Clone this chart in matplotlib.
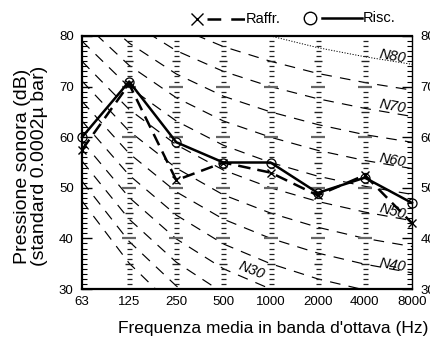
import numpy as np
import matplotlib
matplotlib.use("Agg")
import matplotlib.pyplot as plt
from matplotlib.lines import Line2D

plt.rcParams['font.family'] = ['Liberation Sans', 'DejaVu Sans']

# Octave bands (Hz) and measured sound pressure levels (dB)
bands = ['63', '125', '250', '500', '1000', '2000', '4000', '8000']
raffr = [57.5, 70.5, 51.5, 55.0, 53.0, 48.5, 52.5, 43.0]
risc = [60.0, 71.0, 59.0, 55.0, 55.0, 49.0, 52.0, 47.0]

# Noise Rating curves: level (dB) in each octave band
nr_curves = {
    15: [47.4, 35.1, 26.0, 19.4, 15.0, 11.7, 9.3, 7.5],
    20: [51.3, 39.4, 30.6, 24.3, 20.0, 16.8, 14.4, 12.6],
    25: [55.3, 43.8, 35.3, 29.2, 25.0, 21.9, 19.5, 17.8],
    30: [59.2, 48.1, 39.9, 34.0, 30.0, 27.0, 24.7, 22.9],
    35: [63.2, 52.5, 44.6, 38.9, 35.0, 32.0, 29.8, 28.1],
    40: [67.1, 56.8, 49.2, 43.8, 40.0, 37.1, 34.9, 33.2],
    45: [71.1, 61.2, 53.9, 48.6, 45.0, 42.2, 40.0, 38.4],
    50: [75.0, 65.5, 58.5, 53.5, 50.0, 47.3, 45.2, 43.5],
    55: [79.0, 69.9, 63.2, 58.4, 55.0, 52.3, 50.3, 48.7],
    60: [82.9, 74.2, 67.8, 63.2, 60.0, 57.4, 55.4, 53.8],
    65: [86.9, 78.6, 72.5, 68.1, 65.0, 62.5, 60.5, 59.0],
    70: [90.8, 82.9, 77.1, 73.0, 70.0, 67.6, 65.7, 64.1],
    75: [94.8, 87.3, 81.8, 77.9, 75.0, 72.6, 70.8, 69.3],
    80: [98.7, 91.6, 86.4, 82.7, 80.0, 77.7, 75.9, 74.4],
}
nr_labels = ['N80', 'N70', 'N60', 'N50', 'N40', 'N30']

W, H = 431, 338
fig = plt.figure(figsize=(W / 100, H / 100), dpi=100)
ax = fig.add_axes([82 / W, 1 - 289 / H, 330 / W, 253 / H])
x = np.arange(len(bands))

# NR curves
for level, vals in nr_curves.items():
    if level == 80:
        ax.plot(x, vals, color='black', lw=0.7, ls=(0, (1.2, 1.6)), zorder=1)
    else:
        ax.plot(x, vals, color='black', lw=0.85, ls=(0, (9, 7)), zorder=1)

# Curve labels
label_pos = {
    'N80': (6.58, 75.9, -10), 'N70': (6.58, 66.0, -10), 'N60': (6.58, 55.5, -10),
    'N50': (6.58, 45.3, -15), 'N40': (6.58, 34.8, -9), 'N30': (3.59, 33.6, -22),
}
for name in nr_labels:
    px, py, rot = label_pos[name]
    ax.text(px, py, name, fontsize=10.5, style='italic', ha='center', va='center',
            rotation=rot, zorder=3)

# Vertical scales at each inner octave band
ys = np.arange(31, 80)
minor = ys[ys % 5 != 0]
medium = ys[(ys % 5 == 0) & (ys % 10 != 0)]
major = ys[ys % 10 == 0]
for xi in x[1:-1]:
    ax.plot(np.full(minor.size, xi), minor, ls='none', marker='_', ms=3.6,
            mew=0.9, color='#222222', zorder=2)
    ax.plot(np.full(medium.size, xi), medium, ls='none', marker='_', ms=5.5,
            mew=1.0, color='#222222', zorder=2)
    ax.plot(np.full(major.size, xi), major, ls='none', marker='_', ms=10,
            mew=1.6, color='#666666', zorder=2)

# Measured spectra
ax.plot(x, raffr, color='black', lw=1.8, ls=(0, (5, 2.8)), marker='x', ms=6,
        mew=1.0, clip_on=False, zorder=4)
ax.plot(x, risc, color='black', lw=1.8, ls='-', marker='o', ms=6.5,
        mfc='none', mew=0.9, clip_on=False, zorder=5)

ax.set_xlim(0, 7)
ax.set_ylim(30, 80)
ax.set_xticks(x)
ax.set_xticklabels(bands, fontsize=9.5)
ax.tick_params(axis='x', length=0, pad=5)
ax.set_yticks(np.arange(30, 81, 10))
ax.set_yticks(np.arange(30, 81, 1), minor=True)
ax.tick_params(axis='y', which='both', direction='in', left=True, right=True,
               labelleft=True, labelright=True, labelsize=9.5, pad=6)
ax.tick_params(axis='y', which='major', length=7, width=1.0)
ax.tick_params(axis='y', which='minor', length=3.5, width=0.8)
for side in ['left', 'bottom', 'top']:
    ax.spines[side].set_linewidth(1.6)
ax.spines['right'].set_linewidth(1.0)

fig.text(31 / W, 1 - 166 / H, "Pressione sonora (dB)\n(standard 0.0002\u00b5 bar)",
         rotation=90, ha='center', va='center', multialignment='center',
         fontsize=14, linespacing=1.05)
fig.text(273 / W, 1 - 328 / H, "Frequenza media in banda d'ottava (Hz)",
         ha='center', va='center', fontsize=12.5)

# Legend
def fx(px):
    return px / W


def fy(py):
    return 1 - py / H


fig.add_artist(Line2D([fx(197)], [fy(19)], marker='x', ms=8, mew=1.0,
                      color='black', transform=fig.transFigure))
fig.add_artist(Line2D([fx(207), fx(245)], [fy(19), fy(19)], lw=1.8,
                      ls=(0, (5.5, 4)), color='black', transform=fig.transFigure))
fig.text(fx(246), fy(19), 'Raffr.', ha='left', va='center', fontsize=10.5)
fig.add_artist(Line2D([fx(310)], [fy(18)], marker='o', ms=9, mew=1.0,
                      mfc='none', color='black', transform=fig.transFigure))
fig.add_artist(Line2D([fx(322), fx(362)], [fy(18), fy(18)], lw=1.8,
                      color='black', transform=fig.transFigure))
fig.text(fx(363), fy(18), 'Risc.', ha='left', va='center', fontsize=10.5)

fig.savefig('out.png', dpi=100)
